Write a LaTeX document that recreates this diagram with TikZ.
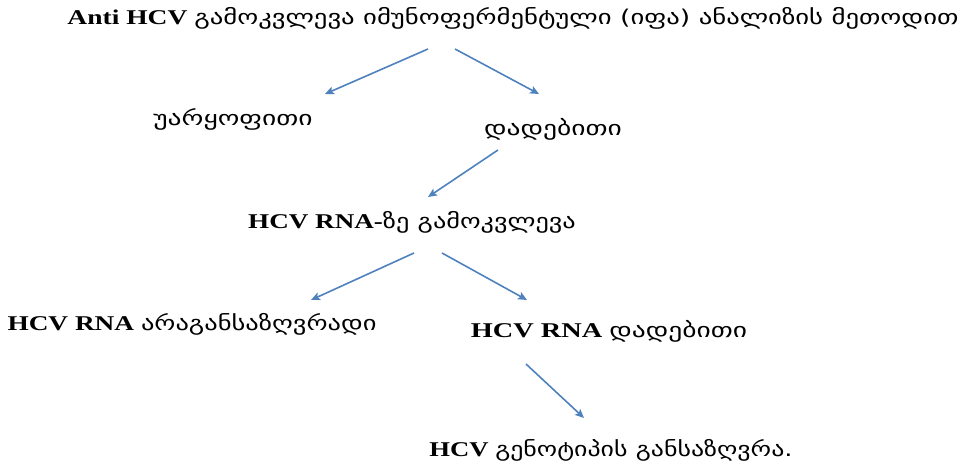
\documentclass[tikz,border=0pt]{standalone}
\usepackage{fontspec}
\setmainfont{Liberation Serif}
\newfontfamily\geo[Scale=0.97]{DejaVu Sans}
\usetikzlibrary{arrows.meta}
\definecolor{arrowblue}{RGB}{79,129,189}
\newcommand{\wide}[2][1.35]{\scalebox{#1}[1]{#2}}

\begin{document}
\begin{tikzpicture}[x=1pt, y=-1pt,
    every node/.style={inner sep=0pt, anchor=base, font=\fontsize{21}{24}\selectfont\bfseries},
    flow/.style={draw=arrowblue, line width=1.6pt, -{Stealth[length=9pt,width=8pt,inset=2pt]}},]

\useasboundingbox (0,0) rectangle (965,465);

\node (antihcv)  at (513,25)  {\wide[1.31]{Anti HCV {\geo\mdseries გამოკვლევა იმუნოფერმენტული (იფა) ანალიზის მეთოდით}}};
\node (negative) at (233,126) {\wide{\geo\mdseries უარყოფითი}};
\node (positive) at (553,136) {\wide{\geo\mdseries დადებითი}};
\node (rnatest)  at (412,228) {\wide[1.29]{HCV RNA-{\geo\mdseries ზე გამოკვლევა}}};
\node (rnaundet) at (192,330) {\wide[1.30]{HCV RNA {\geo\mdseries არაგანსაზღვრადი}}};
\node (rnapos)   at (609,337) {\wide{HCV RNA {\geo\mdseries დადებითი}}};
\node (genotype) at (611,456) {\wide[1.27]{HCV {\geo\mdseries გენოტიპის განსაზღვრა.}}};

\coordinate (a1) at (428,49);  \coordinate (b1) at (325,94);
\coordinate (a2) at (455,49);  \coordinate (b2) at (539,94);
\coordinate (a3) at (498,150); \coordinate (b3) at (428,197);
\coordinate (a4) at (414,253); \coordinate (b4) at (311,300);
\coordinate (a5) at (442,253); \coordinate (b5) at (527,300);
\coordinate (a6) at (526,364); \coordinate (b6) at (584,418);

\draw[flow] (a1) -- (b1);
\draw[flow] (a2) -- (b2);
\draw[flow] (a3) -- (b3);
\draw[flow] (a4) -- (b4);
\draw[flow] (a5) -- (b5);
\draw[flow] (a6) -- (b6);
\end{tikzpicture}
\end{document}
